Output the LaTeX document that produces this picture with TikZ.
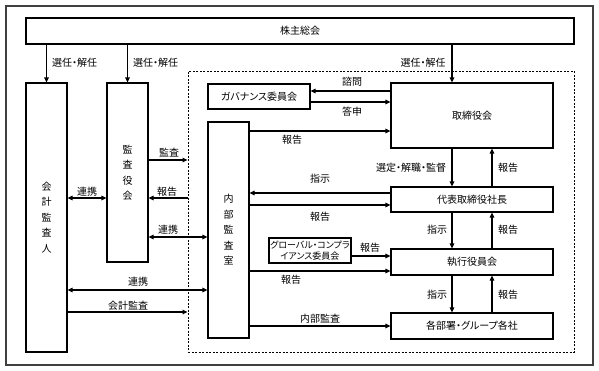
\documentclass[tikz,border=0pt]{standalone}
\usepackage{fontspec}
\setmainfont{Noto Sans CJK JP}[RawFeature=+palt]
\usetikzlibrary{arrows.meta}
\begin{document}
\begin{tikzpicture}[x=1pt,y=-1pt,
  box/.style={draw, line width=1.2pt, inner sep=0pt, align=center, font=\fontsize{10}{12}\selectfont},
  vbox/.style={box, font=\fontsize{10}{15.5}\selectfont},
  arr/.style={-{Triangle[length=5pt,width=4.5pt]}, line width=1.2pt},
  darr/.style={{Triangle[length=5pt,width=4.5pt]}-{Triangle[length=5pt,width=4.5pt]}, line width=1.2pt},
  lbl/.style={inner sep=0pt, font=\fontsize{10}{12}\selectfont}]
\useasboundingbox (0,0) rectangle (599,370);
% frames
\node[draw=black!75, line width=1.1pt, minimum width=587, minimum height=359, inner sep=0pt] (frame) at (299.5,185.5) {};
\node[draw, line width=0.8pt, dash pattern=on 2pt off 1.5pt, minimum width=386, minimum height=281, inner sep=0pt] (dash) at (381,211.5) {};
% boxes
\node[box, minimum width=548, minimum height=26] (kabu) at (300,31) {株主総会};
\node[vbox, minimum width=41, minimum height=269] (kaikei) at (46.5,217.5) {会\\計\\監\\査\\人};
\node[vbox, minimum width=41, minimum height=179] (kansa) at (127.5,172.5) {監\\査\\役\\会};
\node[box, minimum width=102, minimum height=25] (gov) at (259,96.5) {ガバナンス委員会};
\node[box, minimum width=162, minimum height=65] (tori) at (472,115.5) {取締役会};
\node[vbox, minimum width=41, minimum height=216] (naibu) at (228.5,230) {内\\部\\監\\査\\室};
\node[box, minimum width=162, minimum height=25] (daihyo) at (472,199.5) {代表取締役社長};
\node[box, minimum width=162, minimum height=26] (shikko) at (472,262) {執行役員会};
\node[box, minimum width=162, minimum height=26] (kakubu) at (472,326) {各部署・グループ各社};
\node[box, minimum width=82, minimum height=25, font=\fontsize{9}{11.5}\selectfont] (global) at (310,250.5) {グローバル・コンプラ\\イアンス委員会};
% shareholders
\draw[arr] (kaikei.north |- kabu.south) -- (kaikei.north);
\node[lbl] (l1) at (74.5,63) {選任・解任};
\draw[arr] (kansa.north |- kabu.south) -- (kansa.north);
\node[lbl] (l2) at (155.5,63) {選任・解任};
\draw[arr] (kabu.south -| 452,0) -- (tori.north -| 452,0);
\node[lbl] (l3) at (423,63) {選任・解任};
% governance committee
\draw[arr] (tori.west |- 0,91) -- (gov.east |- 0,91);
\node[lbl] (l4) at (352,82) {諮問};
\draw[arr] (gov.east |- 0,102) -- (tori.west |- 0,102);
\node[lbl] (l5) at (352,112) {答申};
% internal audit
\draw[arr] (naibu.east |- 0,131) -- (tori.west |- 0,131);
\node[lbl] (l6) at (292,140) {報告};
\draw[arr] (daihyo.west |- 0,193) -- (naibu.east |- 0,193);
\node[lbl] (l7) at (320,179) {指示};
\draw[arr] (naibu.east |- 0,205) -- (daihyo.west |- 0,205);
\node[lbl] (l8) at (320,217) {報告};
\draw[arr] (global.east |- 0,256) -- (shikko.west |- 0,256);
\node[lbl] (l9) at (370,248) {報告};
\draw[arr] (naibu.east |- 0,271) -- (shikko.west |- 0,271);
\node[lbl] (l10) at (291,280) {報告};
\draw[arr] (naibu.east |- 0,326) -- (kakubu.west |- 0,326);
\node[lbl] (l11) at (320,319) {内部監査};
% chain of command
\draw[arr] (tori.south -| 452,0) -- (daihyo.north -| 452,0);
\node[lbl] (l12) at (411,168) {選定・解職・監督};
\draw[arr] (daihyo.north -| 492,0) -- (tori.south -| 492,0);
\node[lbl] (l13) at (508,168) {報告};
\draw[arr] (daihyo.south -| 452,0) -- (shikko.north -| 452,0);
\node[lbl] (l14) at (437,230) {指示};
\draw[arr] (shikko.north -| 492,0) -- (daihyo.south -| 492,0);
\node[lbl] (l15) at (508,230) {報告};
\draw[arr] (shikko.south -| 452,0) -- (kakubu.north -| 452,0);
\node[lbl] (l16) at (437,295) {指示};
\draw[arr] (kakubu.north -| 492,0) -- (shikko.south -| 492,0);
\node[lbl] (l17) at (508,295) {報告};
% left side
\draw[arr] (kansa.east |- 0,160) -- (dash.west |- 0,160);
\node[lbl] (l18) at (169,153) {監査};
\draw[arr] (dash.west |- 0,198) -- (kansa.east |- 0,198);
\node[lbl] (l19) at (167,192) {報告};
\draw[darr] (kaikei.east |- 0,198) -- (kansa.west |- 0,198);
\node[lbl] (l20) at (87,192) {連携};
\draw[darr] (kansa.east |- 0,237) -- (naibu.west |- 0,237);
\node[lbl] (l21) at (168,230) {連携};
\draw[darr] (kaikei.east |- 0,290) -- (naibu.west |- 0,290);
\node[lbl] (l22) at (138,282) {連携};
\draw[arr] (kaikei.east |- 0,312) -- (dash.west |- 0,312);
\node[lbl] (l23) at (128,306) {会計監査};
\end{tikzpicture}
\end{document}
